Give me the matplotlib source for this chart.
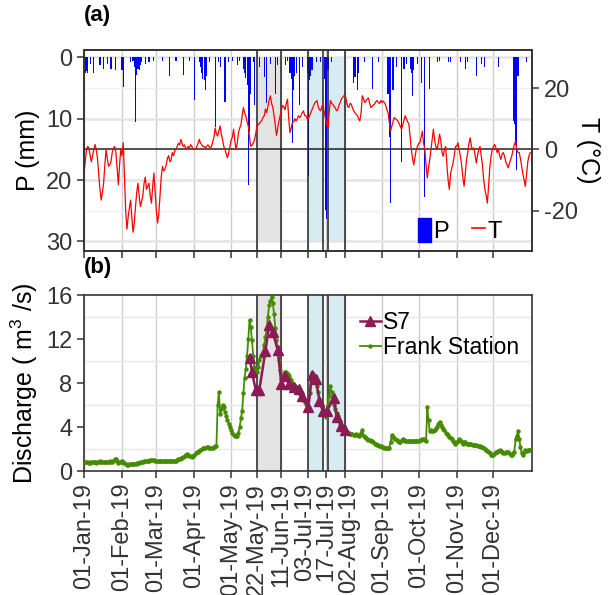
import pandas as pd
import matplotlib
matplotlib.use('Agg')
import matplotlib.pyplot as plt
import matplotlib.dates as mdates
import matplotlib.transforms as mtransforms
from matplotlib.lines import Line2D
from matplotlib.patches import Patch

plt.rcParams['font.family'] = ['Liberation Sans', 'DejaVu Sans']
plt.rcParams['mathtext.fontset'] = 'custom'
plt.rcParams['mathtext.rm'] = 'Liberation Sans'
plt.rcParams['mathtext.it'] = 'Liberation Sans:italic'
plt.rcParams['axes.unicode_minus'] = False

days = pd.date_range('2019-01-01', '2019-12-31', freq='D')

# daily air temperature (deg C), one list per month
t_jan = [-8, -4, 0, 1, 0.5, -2, -4, -2, 0, 1.6, 0, -3, -8, -13, -16.5, -14, -11, -5, 0, -3,
         -5.5, -5, -4, -1, 0.5, 1, -1, -6, -11.5, -5, 0]
t_feb = [-2, 2.2, -9, -20, -26, -22, -19, -16.5, -22, -27, -24, -18.6, -14, -11, -15, -18.6,
         -17, -15, -11, -9, -13, -12, -11, -15, -17.5, -12, -7.7, -14]
t_mar = [-20, -24, -21, -15, -9, -5.5, -7, -6.5, -5, -3, -2, -4, -3.5, -1, -2, -0.5, 0, 1, 2,
         1.5, 3.3, 2, 1, 1.5, 0, 0.5, 1, 0.5, 1.6, 1, 0]
t_apr = [0, 0, 1, 2, 3.3, 2, 1.6, 1, 1, 0.5, 1, 1.5, 1, 0.5, 1, 2.5, 4, 7, 5, 4.4, 6, 7.7, 5,
         3.3, 1, 0, -1.5, -2.7, -1, 1]
t_may = [3, 4, 6.6, 3, 0, 2, 5.5, 7, 8, 11, 13.7, 12, 11, 9, 7.7, 4, 1, 1.5, 2, 3, 5, 7.7, 8,
         8.5, 9, 9.5, 10.4, 11, 13.2, 12, 14]
t_jun = [16, 17.5, 15, 13.7, 11, 8, 4.6, 7, 9.3, 11, 13, 14.3, 14, 13, 15, 16.4, 10, 5.5, 7,
         8.8, 9, 10, 9.3, 10, 11, 10.4, 11, 12, 12.6, 11]
t_jul = [11, 10, 10, 11, 12, 13, 14, 15, 15.5, 16, 14, 13, 12.6, 14, 14.8, 12, 10, 8, 7, 12,
         16, 15, 14.8, 14, 13.5, 12.6, 13, 14.5, 15.3, 16.5, 17]
t_aug = [17.5, 18, 16, 14, 13.7, 15, 14.8, 13.5, 12.6, 12, 11.5, 11, 10, 9.3, 12, 17.5, 16.5,
         15.3, 16, 16.4, 16.8, 15, 13.7, 14, 14.5, 14.8, 15.5, 16, 15.3, 15, 16]
t_sep = [15.3, 15.8, 15.3, 14.5, 13, 12, 9, 6, 7.5, 9, 10.4, 10, 9.7, 9.3, 8.5, 7.5, 6.6, 8,
         9.5, 11, 10, 9, 8.2, 4, 0, -3, -5, -2.5, 0, 1]
t_oct = [2, 2.2, 4, 6, 2, 0, -5, -9.3, -6, -3.3, 0, 3, 6.6, 3, 1, 0, 2, 5, 3, -1, -2.2, 0, 1,
         -5, -10, -13, -8, -6, -4.4, -2, 1]
t_nov = [1, 2.2, 0, -2.2, -5, -9, -12, -8, -3.3, -1, 2, 3.8, 1, 0, 0.5, -2, -4.4, -2, 0, 1,
         -2, -5, -9.9, -13, -15, -17.5, -12, -6, -2.2, 0]
t_dec = [1, 1.6, 0.5, -1, 0, -2, -3.3, -1.5, -1, -2.2, -4, -5, -6, -4.5, -3.3, -2, 0, 1.5,
         2.7, 0, -1, -1, -3, -5.5, -8, -10, -12, -8, -4, -2, -1]
temp = (t_jan + t_feb + t_mar + t_apr + t_may + t_jun + t_jul + t_aug + t_sep + t_oct
        + t_nov + t_dec)

# daily discharge at Frank Station (m3/s), one list per month
q_jan = [0.85, 0.85, 0.8, 0.8, 0.75, 0.75, 0.8, 0.85, 0.8, 0.78, 0.76, 0.8, 0.85, 0.9, 0.85,
         0.8, 0.85, 0.85, 0.8, 0.8, 0.85, 0.9, 0.85, 0.8, 0.95, 1.05, 1.1, 0.9, 0.7, 0.8, 0.85]
q_feb = [0.95, 0.85, 0.75, 0.6, 0.55, 0.55, 0.6, 0.6, 0.62, 0.64, 0.65, 0.68, 0.7, 0.72, 0.75,
         0.78, 0.8, 0.85, 0.88, 0.9, 0.92, 0.95, 0.95, 1.0, 1.0, 1.0, 0.98, 0.95]
q_mar = [0.92, 0.9, 0.9, 0.9, 0.9, 0.9, 0.9, 0.9, 0.9, 0.9, 0.9, 0.9, 0.9, 0.9, 0.92, 0.95,
         0.95, 1.0, 1.05, 1.1, 1.15, 1.2, 1.3, 1.4, 1.5, 1.55, 1.5, 1.4, 1.35, 1.3, 1.4]
q_apr = [1.5, 1.6, 1.7, 1.75, 1.8, 1.9, 2.0, 2.05, 2.1, 2.1, 2.2, 2.15, 2.1, 2.1, 2.05, 2.1,
         2.2, 2.25, 2.3, 6.0, 7.2, 5.2, 5.6, 6.0, 5.8, 5.4, 5.0, 4.6, 4.3, 4.0]
q_may = [3.7, 3.5, 3.3, 3.2, 3.2, 3.2, 3.5, 4.0, 4.8, 5.5, 7.1, 8.5, 9.3, 10.5, 12.0, 13.7,
         13.1, 11.9, 10.5, 9.5, 9.2, 9.0, 9.5, 10.1, 10.5, 10.6, 10.8, 11.5, 12.2, 13.0, 14.0]
q_jun = [15.1, 15.5, 15.85, 15.3, 14.3, 13.0, 11.9, 11.0, 10.1, 9.2, 8.4, 8.7, 8.9, 9.0, 9.0,
         8.8, 8.6, 8.4, 8.3, 8.0, 7.8, 7.7, 7.6, 7.5, 7.2, 7.0, 6.9, 6.7, 6.5, 6.3]
q_jul = [6.1, 6.0, 5.8, 7.1, 8.4, 8.9, 8.8, 8.6, 8.2, 7.7, 7.2, 6.5, 6.1, 5.8, 5.5, 5.2, 4.9,
         5.5, 6.0, 6.8, 7.7, 7.2, 6.5, 6.0, 5.6, 5.3, 5.0, 4.6, 4.3, 4.1, 3.9]
q_aug = [3.8, 3.7, 3.6, 3.5, 3.5, 3.4, 3.4, 3.4, 3.3, 3.3, 3.4, 3.3, 3.2, 3.3, 3.5, 3.7, 3.2,
         3.1, 3.0, 2.9, 2.8, 2.8, 2.7, 2.7, 2.6, 2.5, 2.5, 2.4, 2.35, 2.3, 2.25]
q_sep = [2.2, 2.2, 2.1, 2.1, 2.05, 2.1, 2.1, 2.6, 3.3, 3.1, 3.0, 2.9, 2.8, 2.7, 2.6, 2.65, 2.8,
         2.9, 2.8, 2.7, 2.7, 2.75, 2.7, 2.7, 2.7, 2.7, 2.75, 2.7, 2.7, 2.75]
q_oct = [2.7, 2.8, 2.8, 2.9, 2.9, 2.8, 2.7, 5.85, 4.6, 3.6, 3.7, 3.6, 3.6, 3.7, 3.9, 4.0, 4.3,
         4.5, 4.2, 4.0, 3.8, 3.7, 3.5, 3.4, 3.3, 3.1, 3.0, 2.9, 2.7, 2.6, 2.5]
q_nov = [2.6, 2.7, 2.9, 2.8, 2.6, 2.5, 2.6, 2.6, 2.5, 2.5, 2.5, 2.5, 2.45, 2.4, 2.4, 2.35, 2.4,
         2.3, 2.3, 2.25, 2.2, 2.2, 2.1, 2.0, 1.9, 1.8, 1.7, 1.6, 1.5, 1.45]
q_dec = [1.5, 1.6, 1.7, 1.76, 1.8, 1.9, 1.8, 1.7, 1.6, 1.65, 1.7, 1.76, 1.7, 1.6, 1.5, 1.45,
         1.6, 1.7, 2.9, 3.2, 3.6, 2.9, 2.2, 1.6, 1.45, 1.7, 1.9, 1.85, 1.9, 1.9, 1.9]
q_frank = (q_jan + q_feb + q_mar + q_apr + q_may + q_jun + q_jul + q_aug + q_sep + q_oct
           + q_nov + q_dec)

# precipitation: day of year (0 = 1 Jan) and depth (mm)
p_day = [1, 2, 3, 5, 8, 13, 16, 19, 22, 26, 31, 32, 38, 40, 41, 42, 43, 44, 45, 46, 47, 50,
         53, 57, 64, 70, 75, 81, 86, 90, 94, 95, 96, 97, 98, 99, 100, 102, 107, 110, 111, 115,
         118, 121, 125, 127, 130, 131, 132, 133, 134, 135, 136, 138, 139, 143, 147, 149, 152,
         156, 158, 164, 166, 168, 169, 170, 171, 172, 173, 176, 178, 182, 183, 184, 185, 186,
         190, 193, 196, 197, 198, 199, 202, 220, 221, 223, 224, 229, 235, 240, 248, 249, 250,
         252, 255, 259, 261, 263, 266, 267, 268, 269, 272, 275, 278, 282, 288, 290, 297, 299,
         307, 311, 313, 320, 324, 327, 338, 350, 351, 352, 353, 354, 361]
p_mm = [2.6, 2.2, 2.6, 1.0, 2.6, 1.2, 1.8, 1.0, 1.8, 2.0, 2.0, 4.8, 0.8, 0.6, 1.5, 10.6, 2.8,
        1.8, 2.0, 1.2, 0.8, 1.0, 0.7, 0.5, 0.6, 3.1, 0.5, 2.9, 0.6, 6.9, 0.8, 1.5, 2.5, 3.5,
        3.7, 5.3, 3.0, 0.8, 11.3, 0.8, 1.6, 7.2, 0.8, 0.6, 1.2, 0.6, 1.8, 2.6, 3.3, 4.5, 20.8,
        12.1, 5.9, 0.8, 7.8, 1.5, 3.2, 7.5, 1.0, 5.9, 1.2, 1.2, 0.6, 2.5, 3.5, 14.0, 5.3, 3.0,
        2.5, 7.8, 1.5, 2.5, 19.4, 3.7, 3.0, 2.0, 0.8, 0.8, 3.5, 24.9, 26.3, 2.0, 0.8, 4.2, 3.2,
        5.3, 2.5, 0.8, 5.1, 0.8, 5.9, 13.0, 23.8, 5.3, 1.5, 17.0, 1.8, 1.0, 1.8, 2.5, 6.2, 2.0,
        1.0, 4.2, 22.7, 5.1, 0.8, 0.6, 0.8, 0.8, 0.8, 1.8, 0.8, 3.1, 1.0, 1.5, 1.6, 10.4, 10.8,
        14.3, 18.4, 3.0, 0.8]

# S7 discharge measurements (m3/s)
s7_date = ['2019-05-16', '2019-05-18', '2019-05-21', '2019-05-24', '2019-05-29', '2019-06-01',
           '2019-06-04', '2019-06-08', '2019-06-11', '2019-06-14', '2019-06-17', '2019-06-21',
           '2019-06-25', '2019-06-28', '2019-07-03', '2019-07-06', '2019-07-09', '2019-07-12',
           '2019-07-15', '2019-07-18', '2019-07-24', '2019-07-26', '2019-07-30', '2019-08-02']
s7_q = [10.3, 9.0, 7.4, 7.4, 10.9, 13.3, 12.6, 11.0, 7.9, 8.6, 7.9, 7.6, 7.5, 6.8, 5.8, 8.7,
        8.4, 6.4, 5.5, 5.5, 6.6, 4.9, 4.1, 3.7]

# sampling periods and marker lines
periods = [('2019-05-22', '2019-06-11'), ('2019-07-03', '2019-07-15'),
           ('2019-07-19', '2019-08-02')]
period_colors = ['#e3e3e3', '#d7ebf2', '#d7ebf2']
vline_dates = ['2019-05-22', '2019-06-11', '2019-07-03', '2019-07-15', '2019-07-19',
               '2019-08-02']
tick_dates = ['2019-01-01', '2019-02-01', '2019-03-01', '2019-04-01', '2019-05-01',
              '2019-05-22', '2019-06-11', '2019-07-03', '2019-07-17', '2019-08-02',
              '2019-09-01', '2019-10-01', '2019-11-01', '2019-12-01']

p_dates = pd.Timestamp('2019-01-01') + pd.to_timedelta(p_day, unit='D')
ticks = pd.to_datetime(tick_dates)
xmin = pd.Timestamp('2019-01-01')
xmax = pd.Timestamp('2020-01-01 10:00')

fig = plt.figure(figsize=(6.11, 5.95), dpi=100)
ax1 = fig.add_axes([0.1375, 0.5787, 0.7332, 0.3381])
ax2 = fig.add_axes([0.1375, 0.2084, 0.7332, 0.2966])

tick_kw = dict(labelsize=17, labelcolor='#333333', length=5, width=1.1, color='#333333')

def style_axes(ax):
    ax.set_xlim(xmin, xmax)
    ax.set_xticks(ticks)
    for t in ticks:
        ax.axvline(t, color='#cdcdcd', lw=1.0, zorder=0)
    for s in ax.spines.values():
        s.set_color('#333333')
        s.set_linewidth(1.2)
    ax.tick_params(axis='both', **tick_kw)

# ---- panel (a)
style_axes(ax1)
ax1.set_ylim(31.5, -1.3)
ax1.set_yticks([0, 10, 20, 30])
for v in [0, 10, 20, 30]:
    ax1.axhline(v, color='#e4e4e4', lw=1.8, zorder=0)
for v in [5, 25]:
    ax1.axhline(v, color='#efefef', lw=1.0, zorder=0)
for (a, b), c in zip(periods, period_colors):
    ax1.fill_between([pd.Timestamp(a), pd.Timestamp(b)], 0, 30, color=c, lw=0, zorder=0.5)
ax1.bar(p_dates, p_mm, width=0.9, color='blue', zorder=2)
for d in vline_dates:
    ax1.axvline(pd.Timestamp(d), color='#222222', lw=1.1, zorder=3)
ax1.axhline(15, color='#222222', lw=1.1, zorder=3)
ax1.set_xticklabels([])
ax1.set_ylabel('P (mm)', fontsize=18, labelpad=4)

ax1t = ax1.twinx()
ax1t.plot(days, temp, color='red', lw=0.9)
ax1t.set_ylim(2 * (15 - 31.5), 2 * (15 + 1.3))
ax1t.set_yticks([-20, 0, 20])
ax1t.tick_params(axis='y', **tick_kw)
for s in ax1t.spines.values():
    s.set_color('#333333')
    s.set_linewidth(1.2)
ax1t.set_ylabel('T (°C)', fontsize=18, rotation=270, labelpad=16, va='top')

handles = [Patch(facecolor='blue', edgecolor='blue'),
           Line2D([0], [0], color='red', lw=1.2)]
ax1t.legend(handles, ['P', 'T'], ncol=2, loc='lower left', bbox_to_anchor=(0.745, 0.04),
            frameon=False, fontsize=17, handlelength=0.55, handleheight=1.2,
            handletextpad=0.1, columnspacing=1.0, borderpad=0, borderaxespad=0)

fig.text(0.1375, 0.974, '(a)', fontsize=16, fontweight='bold', va='center')

# ---- panel (b)
style_axes(ax2)
ax2.set_ylim(0, 16.05)
ax2.set_yticks([0, 4, 8, 12, 16])
for v in [2, 6, 10, 14]:
    ax2.axhline(v, color='#e8e8e8', lw=1.0, zorder=0)
for (a, b), c in zip(periods, period_colors):
    ax2.axvspan(pd.Timestamp(a), pd.Timestamp(b), color=c, lw=0, zorder=0.5)
for d in vline_dates:
    ax2.axvline(pd.Timestamp(d), color='#222222', lw=1.1, zorder=1)
ax2.plot(days, q_frank, color='#458B00', lw=1.3, marker='o', ms=2.2, zorder=3,
         label='Frank Station')
ax2.plot(pd.to_datetime(s7_date), s7_q, color='#8B1A55', lw=1.8, marker='^', ms=7.5,
         zorder=4, label='S7')
ax2.xaxis.set_major_formatter(mdates.DateFormatter('%d-%b-%y'))
plt.setp(ax2.get_xticklabels(), rotation=90)
# nudge the three crowded July/August labels apart a little
shifts = {'03-Jul-19': -3, '17-Jul-19': 1, '02-Aug-19': 4}
for lab in ax2.get_xticklabels():
    dx = shifts.get(lab.get_text(), 0)
    if dx:
        lab.set_transform(lab.get_transform()
                          + mtransforms.ScaledTranslation(dx / 100, 0, fig.dpi_scale_trans))
ax2.set_ylabel(r'Discharge ( m$^3$ /s)', fontsize=18, labelpad=4)
h, l = ax2.get_legend_handles_labels()
ax2.legend(h[::-1], l[::-1], loc='upper left', bbox_to_anchor=(0.58, 1.0), frameon=False,
           fontsize=16.5, handlelength=0.9, handletextpad=0.1, labelspacing=0.1,
           borderpad=0.2)

fig.text(0.1375, 0.55, '(b)', fontsize=16, fontweight='bold', va='center')

fig.savefig('out.png', dpi=100)
